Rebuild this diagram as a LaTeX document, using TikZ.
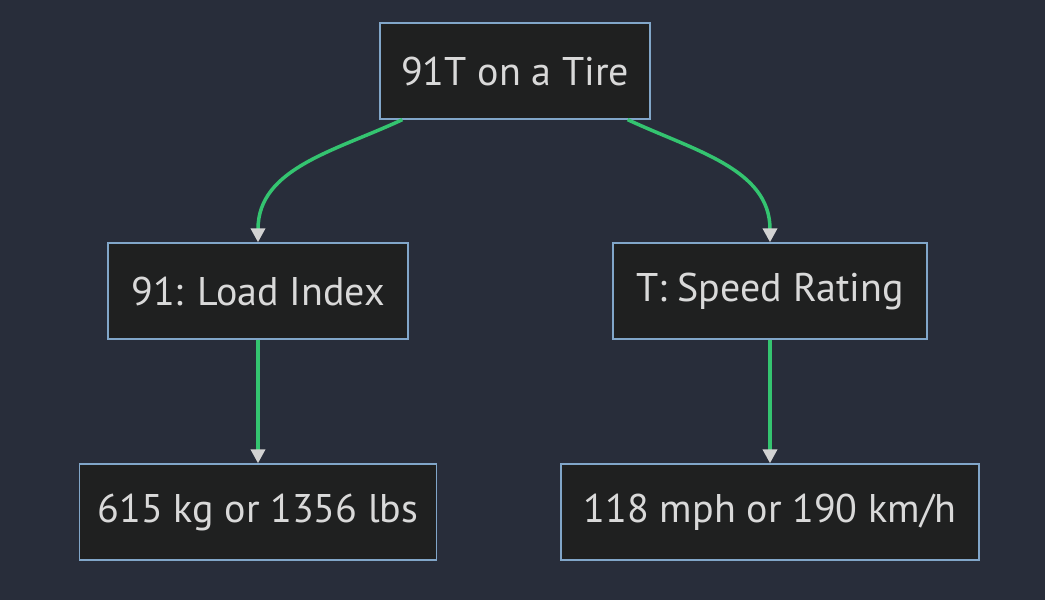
\documentclass[tikz,border=0pt]{standalone}
\usepackage{fontspec}
\setmainfont{PT Sans}
\usetikzlibrary{arrows.meta}
\definecolor{bgc}{RGB}{40,45,58}
\definecolor{boxc}{RGB}{31,32,32}
\definecolor{linec}{RGB}{129,166,201}
\definecolor{edgec}{RGB}{52,196,112}
\definecolor{tipc}{RGB}{210,210,210}
\tikzset{
  box/.style={draw=linec,fill=boxc,line width=1.3pt,text=white!85!black,minimum height=96pt,inner xsep=18pt,font=\fontsize{40}{46}\selectfont},
  edge/.style={draw=edgec,line width=3.5pt,-{Triangle[color=tipc,length=14pt,width=14pt]}}
}
\begin{document}
\begin{tikzpicture}[x=1pt,y=-1pt]
  \fill[bgc] (0,0) rectangle (1045,600);
  \node[box,minimum width=270pt] (tire) at (515,71) {91T on a Tire};
  \node[box,minimum width=300pt] (load) at (258,291) {91: Load Index};
  \node[box,minimum width=314pt] (speed) at (770,291) {T: Speed Rating};
  \node[box,minimum width=357pt] (kg) at (258,512) {615 kg or 1356 lbs};
  \node[box,minimum width=418pt] (mph) at (770,512) {118 mph or 190 km/h};
  \draw[edge] ([xshift=23pt]tire.south west) to[out=-155,in=90] (load.north);
  \draw[edge] ([xshift=-23pt]tire.south east) to[out=-25,in=90] (speed.north);
  \draw[edge] (load.south) -- (kg.north);
  \draw[edge] (speed.south) -- (mph.north);
\end{tikzpicture}
\end{document}
